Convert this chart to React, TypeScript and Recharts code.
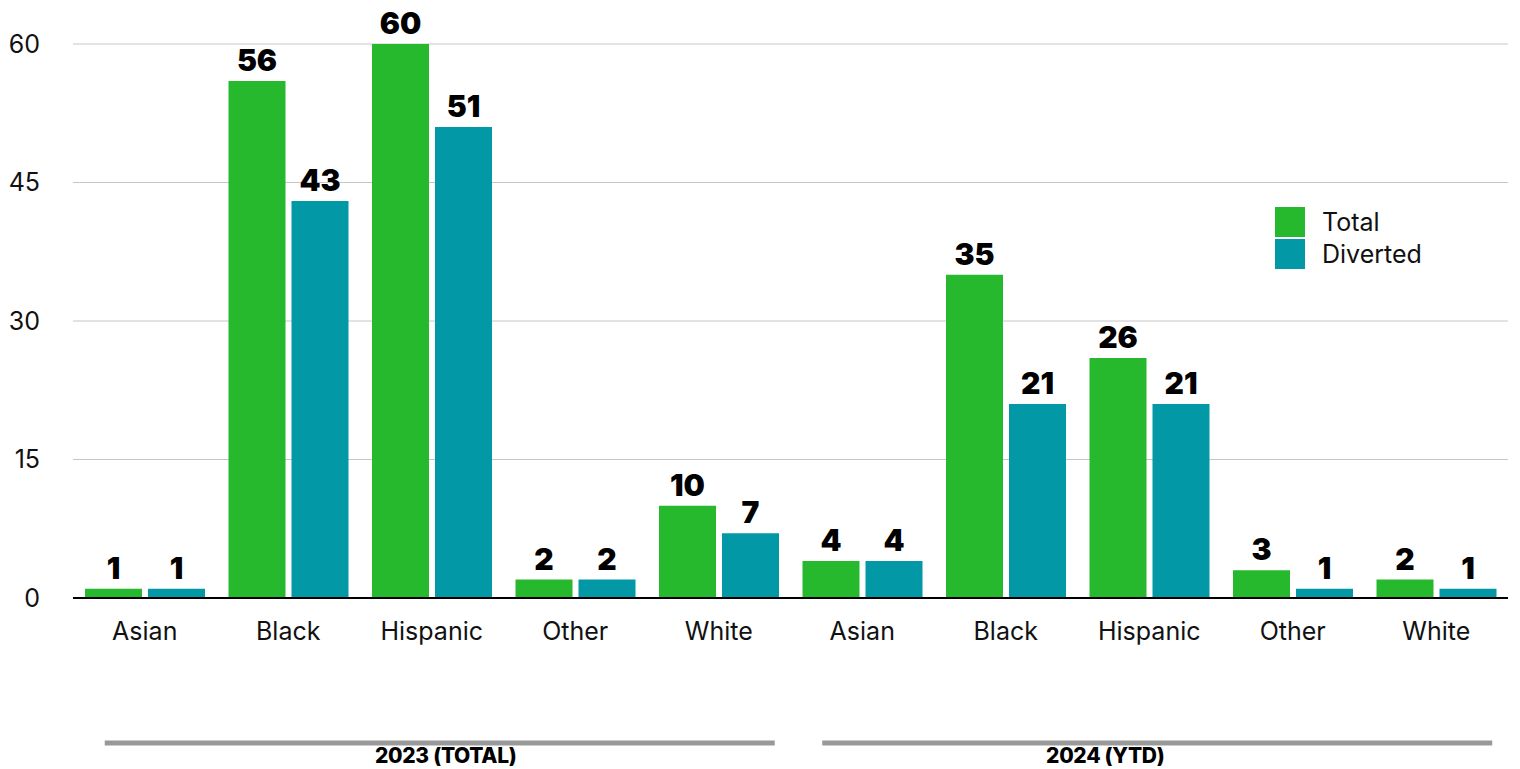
import { BarChart, Bar, XAxis, YAxis, CartesianGrid, Legend, LabelList } from 'recharts';

const categories = ['Asian', 'Black', 'Hispanic', 'Other', 'White', 'Asian', 'Black', 'Hispanic', 'Other', 'White'];
const periods = ['2023 (TOTAL)', '2023 (TOTAL)', '2023 (TOTAL)', '2023 (TOTAL)', '2023 (TOTAL)', '2024 (YTD)', '2024 (YTD)', '2024 (YTD)', '2024 (YTD)', '2024 (YTD)'];
const totals = [1, 56, 60, 2, 10, 4, 35, 26, 3, 2];
const diverted = [1, 43, 51, 2, 7, 4, 21, 21, 1, 1];
const yTicks = [0, 15, 30, 45, 60];

const data = categories.map((category, i) => ({
  category,
  period: periods[i],
  total: totals[i],
  diverted: diverted[i],
}));

const GREEN = '#27b92d';
const TEAL = '#0398a6';
const FONT = 'Inter, "Noto Sans", sans-serif';

// label shift for each period group (the source centers them a bit off the group)
const periodLabelShift = [14, -44];

function PeriodTick(props: any) {
  const { x, y, index, payload } = props;
  if (index % 5 !== 2) return null;
  const shift = periodLabelShift[Math.floor(index / 5)];
  return (
    <g>
      <line x1={x - 327} x2={x + 343} y1={y + 23} y2={y + 23} stroke="#999" strokeWidth={5} />
      <text
        x={x + shift}
        y={y + 43}
        textAnchor="middle"
        fontFamily={FONT}
        fontSize={21}
        fontWeight={800}
        letterSpacing={-0.3}
        fill="#000"
      >
        {payload.value}
      </text>
    </g>
  );
}

function LegendBox() {
  const items = [
    { label: 'Total', color: GREEN },
    { label: 'Diverted', color: TEAL },
  ];
  return (
    <div style={{ fontFamily: FONT }}>
      {items.map((it) => (
        <div key={it.label} style={{ display: 'flex', alignItems: 'center', height: 30, marginBottom: 2 }}>
          <div style={{ width: 30, height: 30, background: it.color }} />
          <span style={{ marginLeft: 17, fontSize: 25, color: '#111' }}>{it.label}</span>
        </div>
      ))}
    </div>
  );
}

export default function App() {
  return (
    <div style={{ position: 'absolute', left: 0, top: 0, background: '#fff' }}>
      <BarChart
        width={1520}
        height={769}
        data={data}
        margin={{ top: 44, right: 12, bottom: 0, left: 0 }}
        barGap={6}
      >
        <CartesianGrid vertical={false} stroke="#c6c6c6" />
        <YAxis
          width={73}
          domain={[0, 60]}
          ticks={yTicks}
          axisLine={false}
          tickLine={false}
          tickSize={0}
          tickMargin={33}
          tick={{ fontFamily: FONT, fontSize: 25, fill: '#111' }}
        />
        <XAxis
          dataKey="category"
          height={120}
          interval={0}
          axisLine={{ stroke: '#000', strokeWidth: 2 }}
          tickLine={false}
          tickSize={0}
          tickMargin={24}
          tick={{ fontFamily: FONT, fontSize: 25, fill: '#111' }}
        />
        <XAxis
          xAxisId="period"
          dataKey="period"
          height={51}
          interval={0}
          axisLine={false}
          tickLine={false}
          tickSize={0}
          tick={<PeriodTick />}
        />
        <Legend
          layout="vertical"
          align="center"
          verticalAlign="middle"
          content={<LegendBox />}
          wrapperStyle={{ left: 1275, top: 207, width: 'auto', height: 'auto' }}
        />
        <Bar dataKey="total" name="Total" fill={GREEN} barSize={57} isAnimationActive={false}>
          <LabelList dataKey="total" position="top" offset={10} fill="#000" fontFamily={FONT} fontSize={30} fontWeight={900} />
        </Bar>
        <Bar dataKey="diverted" name="Diverted" fill={TEAL} barSize={57} isAnimationActive={false}>
          <LabelList dataKey="diverted" position="top" offset={10} fill="#000" fontFamily={FONT} fontSize={30} fontWeight={900} />
        </Bar>
      </BarChart>
    </div>
  );
}
